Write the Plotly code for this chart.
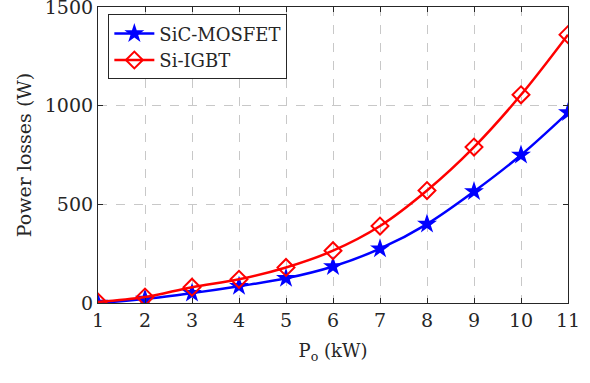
import plotly.graph_objects as go

po_kw = [1, 2, 3, 4, 5, 6, 7, 8, 9, 10, 11]
sic_mosfet = [0, 20, 50, 85, 125, 185, 275, 400, 565, 750, 965]
si_igbt = [5, 30, 80, 120, 180, 265, 390, 570, 790, 1055, 1360]
x_ticks = [1, 2, 3, 4, 5, 6, 7, 8, 9, 10, 11]
y_ticks = [0, 500, 1000, 1500]

font_family = "DejaVu Serif"

fig = go.Figure()
fig.add_trace(go.Scatter(
    x=po_kw, y=sic_mosfet, name="SiC-MOSFET", mode="lines+markers",
    line=dict(color="#0000ff", width=2.5, shape="spline"),
    marker=dict(symbol="star", size=15, color="#0000ff"),
))
fig.add_trace(go.Scatter(
    x=po_kw, y=si_igbt, name="Si-IGBT", mode="lines+markers",
    line=dict(color="#ff0000", width=2.5, shape="spline"),
    marker=dict(symbol="diamond-open", size=13, color="#ff0000", line=dict(width=2)),
))

fig.update_layout(
    width=590, height=383,
    margin=dict(l=98, r=22, t=7, b=80),
    paper_bgcolor="white", plot_bgcolor="white",
    font=dict(family=font_family, size=19, color="#262626"),
    showlegend=True,
)
fig.update_xaxes(
    range=[1, 11], tickmode="array", tickvals=x_ticks, automargin=False,
    title_text="P<sub>o</sub> (kW)", title_standoff=14, title_font=dict(size=18),
    tickfont=dict(size=19),
    showline=True, linecolor="#262626", linewidth=1.2, mirror="ticks",
    ticks="inside", ticklen=5, tickcolor="#262626",
    showgrid=True, gridcolor="#c8c8c8", griddash="dash", gridwidth=1,
    zeroline=False, ticklabeloverflow="allow",
)
fig.update_yaxes(
    range=[0, 1500], tickmode="array", tickvals=y_ticks, automargin=False,
    title_text="Power losses (W)", title_standoff=8, title_font=dict(size=19),
    tickfont=dict(size=19),
    showline=True, linecolor="#262626", linewidth=1.2, mirror="ticks",
    ticks="inside", ticklen=5, tickcolor="#262626",
    showgrid=True, gridcolor="#c8c8c8", griddash="dash", gridwidth=1,
    zeroline=False, ticklabeloverflow="allow",
)
fig.update_layout(legend=dict(x=0.022, y=0.975, xanchor="left", yanchor="top",
                bgcolor="white", bordercolor="#262626", borderwidth=1,
                font=dict(size=18),
                itemwidth=40, tracegroupgap=0))

fig.write_html("out.html")
